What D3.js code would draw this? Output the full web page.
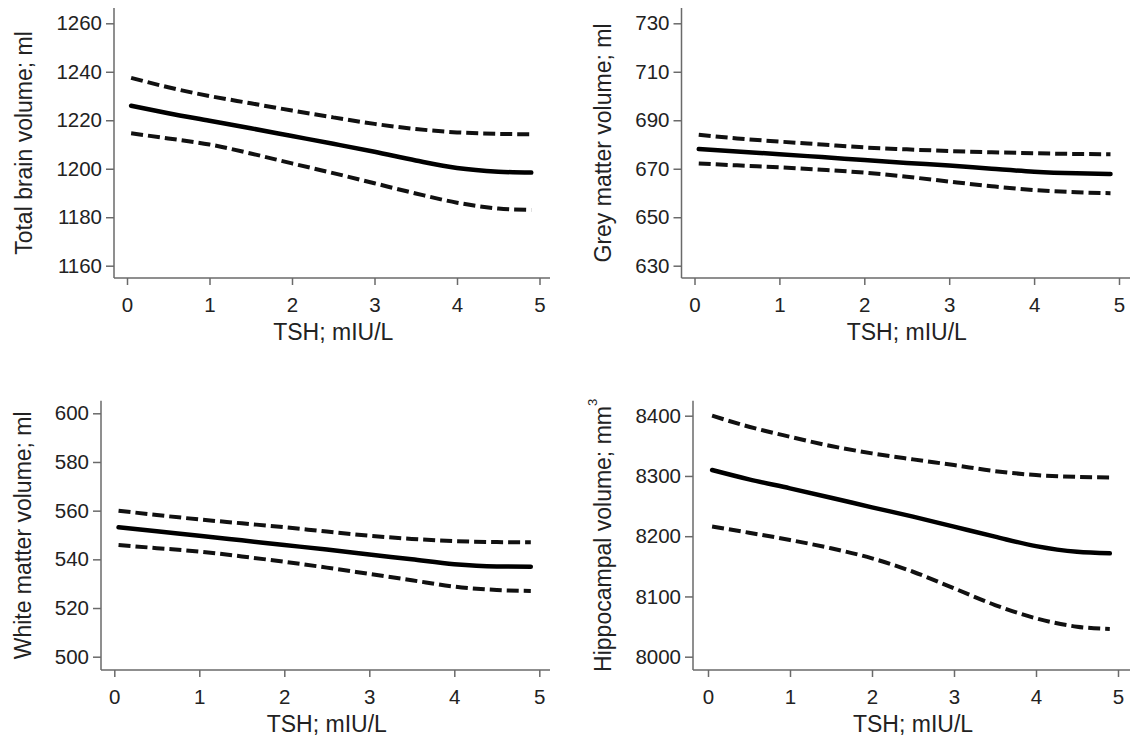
<!DOCTYPE html>
<html>
<head>
<meta charset="utf-8">
<script src="https://cdn.jsdelivr.net/npm/d3@7"></script>
<style>
  body { margin: 0; background: #fff; }
  svg { display: block; font-family: "Liberation Sans", Arial, sans-serif; }
</style>
</head>
<body>
<svg id="chart" width="1130" height="739"></svg>
<script>
const tsh = [0.05, 0.5, 1, 1.5, 2, 2.5, 3, 3.5, 4, 4.5, 4.9];
const xTicks = [0, 1, 2, 3, 4, 5];

// Total brain volume; ml
const totalFit   = [1226, 1222.9, 1219.8, 1216.7, 1213.5, 1210.3, 1207, 1203.4, 1200.3, 1198.8, 1198.4];
const totalUpper = [1237.5, 1233.6, 1230, 1227, 1224, 1221.2, 1218.5, 1216.4, 1215, 1214.4, 1214.2];
const totalLower = [1214.6, 1212.5, 1210, 1206.3, 1202.2, 1198.2, 1194, 1189.8, 1186, 1183.6, 1183];
const totalTicks = [1160, 1180, 1200, 1220, 1240, 1260];

// Grey matter volume; ml
const greyFit   = [678.1, 677.1, 676, 674.8, 673.6, 672.4, 671.3, 670, 668.8, 668.1, 667.8];
const greyUpper = [684, 682.5, 681.2, 680, 678.8, 678, 677.3, 676.8, 676.4, 676.1, 676];
const greyLower = [672.2, 671.4, 670.6, 669.6, 668.4, 666.7, 664.7, 662.8, 661.2, 660.3, 659.9];
const greyTicks = [630, 650, 670, 690, 710, 730];

// White matter volume; ml
const whiteFit   = [553.2, 551.5, 549.7, 547.8, 545.9, 544, 542, 540, 538, 537.1, 537];
const whiteUpper = [560, 558.2, 556.4, 554.8, 553.2, 551.4, 549.7, 548.4, 547.5, 547.1, 547];
const whiteLower = [545.9, 544.6, 543.2, 541.2, 539, 536.6, 534, 531.4, 528.8, 527.4, 527];
const whiteTicks = [500, 520, 540, 560, 580, 600];

// Hippocampal volume; mm3
const hippoFit   = [8309.8, 8294.3, 8279.4, 8263.9, 8247.9, 8232.4, 8215.8, 8199.2, 8183.5, 8174, 8171.5];
const hippoUpper = [8400, 8381.7, 8365, 8349.7, 8337.5, 8327.5, 8318, 8308, 8301.5, 8298.5, 8297.6];
const hippoLower = [8216, 8205.8, 8193.7, 8180, 8163.3, 8141, 8113.5, 8085.8, 8063.7, 8049.8, 8046];
const hippoTicks = [8000, 8100, 8200, 8300, 8400];

const xTitle = "TSH; mIU/L";

// panel layout (pixels)
const panels = [
  { title: "Total brain volume; ml", fit: totalFit, upper: totalUpper, lower: totalLower, yTicks: totalTicks,
    axisX: 114, axisY: 278, top: 8, x0: 127, x5: 539.5, xEnd: 550, yLoPx: 265.7, yHiPx: 23.3 },
  { title: "Grey matter volume; ml", fit: greyFit, upper: greyUpper, lower: greyLower, yTicks: greyTicks,
    axisX: 681.5, axisY: 278, top: 8, x0: 694.5, x5: 1119, xEnd: 1130, yLoPx: 265.7, yHiPx: 23.3 },
  { title: "White matter volume; ml", fit: whiteFit, upper: whiteUpper, lower: whiteLower, yTicks: whiteTicks,
    axisX: 101, axisY: 670, top: 400.7, x0: 114.3, x5: 539.3, xEnd: 550, yLoPx: 656.7, yHiPx: 413.3 },
  { title: "Hippocampal volume; mm", sup: "3", fit: hippoFit, upper: hippoUpper, lower: hippoLower, yTicks: hippoTicks,
    axisX: 693, axisY: 670, top: 400.7, x0: 708, x5: 1118, xEnd: 1130, yLoPx: 656.7, yHiPx: 415.7 },
];

const svg = d3.select("#chart");
const axisColor = "#6a6a6a";
const textColor = "#222";

panels.forEach(p => {
  const x = d3.scaleLinear().domain([0, 5]).range([p.x0, p.x5]);
  const y = d3.scaleLinear()
    .domain([p.yTicks[0], p.yTicks[p.yTicks.length - 1]])
    .range([p.yLoPx, p.yHiPx]);

  const g = svg.append("g");

  // axis lines
  g.append("line")
    .attr("x1", p.axisX).attr("x2", p.axisX)
    .attr("y1", p.top).attr("y2", p.axisY)
    .attr("stroke", axisColor).attr("stroke-width", 1.5);
  g.append("line")
    .attr("x1", p.axisX).attr("x2", p.xEnd)
    .attr("y1", p.axisY).attr("y2", p.axisY)
    .attr("stroke", axisColor).attr("stroke-width", 1.5);

  const yAxis = g.append("g")
    .attr("transform", `translate(${p.axisX},0)`)
    .call(d3.axisLeft(y).tickValues(p.yTicks).tickSize(8).tickPadding(4).tickFormat(d3.format("d")));

  const xAxis = g.append("g")
    .attr("transform", `translate(0,${p.axisY})`)
    .call(d3.axisBottom(x).tickValues(xTicks).tickSize(7).tickPadding(12).tickFormat(d3.format("d")));

  [yAxis, xAxis].forEach(a => {
    a.select(".domain").remove();
    a.selectAll(".tick line").attr("stroke", axisColor).attr("stroke-width", 1.5);
    a.selectAll(".tick text")
      .attr("fill", textColor)
      .style("font-size", "20.5px");
  });

  // axis titles
  g.append("text")
    .attr("x", (x(0) + x(5)) / 2)
    .attr("y", p.axisY + 62)
    .attr("text-anchor", "middle")
    .attr("fill", textColor)
    .style("font-size", "23px")
    .text(xTitle);

  const bb = yAxis.node().getBBox();
  const tx = p.axisX + bb.x - 24;
  const ty = (p.top + p.axisY) / 2;
  const yt = g.append("text")
    .attr("transform", `translate(${tx},${ty}) rotate(-90)`)
    .attr("text-anchor", "middle")
    .attr("fill", textColor)
    .style("font-size", "23px")
    .text(p.title);
  if (p.sup) {
    yt.append("tspan")
      .attr("dy", -14)
      .style("font-size", "13px")
      .text(p.sup);
  }

  const line = d3.line()
    .x((d, i) => x(tsh[i]))
    .y(d => y(d))
    .curve(d3.curveMonotoneX);

  [p.upper, p.lower].forEach(band => {
    g.append("path")
      .attr("d", line(band))
      .attr("fill", "none")
      .attr("stroke", "#111")
      .attr("stroke-width", 4)
      .attr("stroke-dasharray", "12,5");
  });

  g.append("path")
    .attr("d", line(p.fit))
    .attr("fill", "none")
    .attr("stroke", "#000")
    .attr("stroke-width", 4.5)
    .attr("stroke-linecap", "round");
});
</script>
</body>
</html>
